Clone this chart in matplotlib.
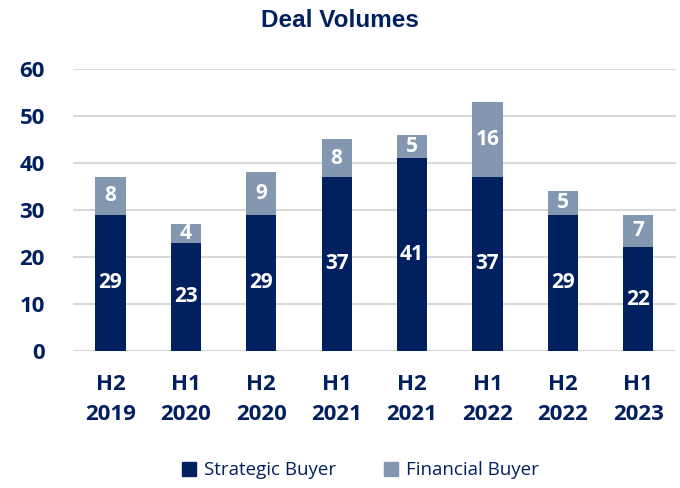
import matplotlib
matplotlib.use("Agg")
import matplotlib.pyplot as plt
from matplotlib.patches import Patch

periods = ["H2\n2019", "H1\n2020", "H2\n2020", "H1\n2021", "H2\n2021", "H1\n2022", "H2\n2022", "H1\n2023"]
strategic = [29, 23, 29, 37, 41, 37, 29, 22]
financial = [8, 4, 9, 8, 5, 16, 5, 7]
yticks = [0, 10, 20, 30, 40, 50, 60]

NAVY = "#002060"
GRAY = "#8497B0"
GRID = "#D9D9D9"
LBL = "Open Sans"

fig = plt.figure(figsize=(6.8, 4.88), dpi=100)
ax = fig.add_axes([0.107, 0.281, 0.887, 0.578])

x = list(range(len(periods)))
w = 0.4
ax.bar(x, strategic, width=w, color=NAVY, zorder=3)
ax.bar(x, financial, width=w, bottom=strategic, color=GRAY, zorder=3)

for i in x:
    ax.text(i, strategic[i] / 2, str(strategic[i]), ha="center", va="center",
            color="white", fontsize=15, fontweight="bold", family=LBL, zorder=4)
    ax.text(i, strategic[i] + financial[i] / 2, str(financial[i]), ha="center", va="center",
            color="white", fontsize=15, fontweight="bold", family=LBL, zorder=4)

ax.set_xlim(-0.5, len(periods) - 0.5)
ax.set_ylim(0, 60)
ax.set_yticks(yticks)
ax.set_yticklabels([str(v) for v in yticks], fontsize=16, fontweight="bold", color=NAVY, family=LBL)
ax.set_xticks(x)
ax.set_xticklabels(periods, fontsize=16, fontweight="bold", color=NAVY, family=LBL, linespacing=1.55)
ax.tick_params(axis="both", length=0)
ax.tick_params(axis="y", pad=20)
ax.tick_params(axis="x", pad=17)
ax.yaxis.grid(True, color=GRID, linewidth=1.5, zorder=0)
for s in ax.spines.values():
    s.set_visible(False)

fig.text(0.5, 0.958, "Deal Volumes", ha="center", va="center", fontsize=17.5,
         fontweight="bold", color=NAVY, family="Liberation Sans")

handles = [Patch(color=NAVY, label="Strategic Buyer"), Patch(color=GRAY, label="Financial Buyer")]
leg = fig.legend(handles=handles, loc="center", bbox_to_anchor=(0.53, 0.036), ncol=2, frameon=False,
                 prop={"family": LBL, "size": 13.5}, handlelength=0.75, handleheight=0.75,
                 columnspacing=2.6, handletextpad=0.4)
for t in leg.get_texts():
    t.set_color(NAVY)

fig.savefig("out.png", dpi=100)
